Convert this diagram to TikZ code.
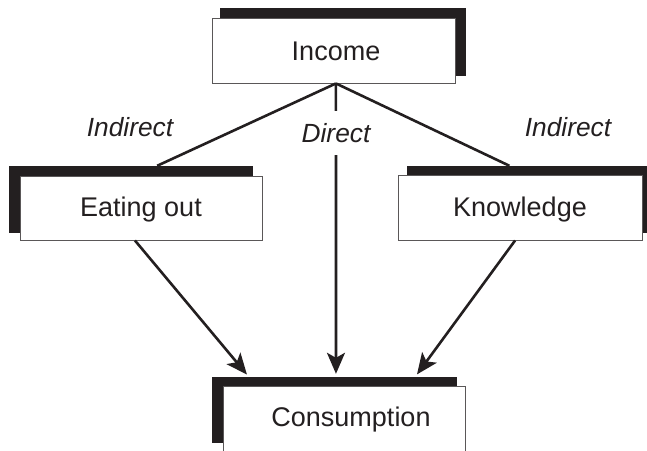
\documentclass[tikz,border=0pt]{standalone}
\usepackage{fontspec}
\setmainfont{Liberation Sans}
\usetikzlibrary{arrows.meta,calc}
\definecolor{ink}{HTML}{231F20}
\begin{document}
\begin{tikzpicture}[x=1pt,y=-1pt,
  shade/.style={fill=ink,draw=none,inner sep=0pt},
  whitebox/.style={fill=white,draw=ink!75,line width=0.9pt,inner sep=0pt},
  lbl/.style={text=ink,inner sep=0pt,font=\fontsize{27}{32}\selectfont},
  tag/.style={text=ink,inner sep=0pt,font=\fontsize{26.3}{30}\selectfont\itshape},
  conn/.style={draw=ink,line width=2.6pt},
  arr/.style={conn,-{Stealth[length=21pt,width=18pt,inset=5pt]},shorten >=3pt}]
\useasboundingbox (0,0) rectangle (647,450);
\clip (0,0) rectangle (647,450);
% Income
\node[shade,minimum width=246pt,minimum height=68pt] (incS) at (343,42) {};
\node[whitebox,minimum width=243pt,minimum height=65pt] (inc) at (333.5,50.5) {};
\node[lbl] (incT) at (336,51) {Income};
% Eating out
\node[shade,minimum width=244pt,minimum height=67pt] (eatS) at (131,199.5) {};
\node[whitebox,minimum width=242pt,minimum height=64pt] (eat) at (141,208) {};
\node[lbl] (eatT) at (141,210) {Eating out};
% Knowledge
\node[shade,minimum width=244pt,minimum height=67pt] (knoS) at (529,199.5) {};
\node[whitebox,minimum width=244pt,minimum height=65pt] (kno) at (520,207.5) {};
\node[lbl] (knoT) at (520,210) {Knowledge};
% Consumption
\node[shade,minimum width=245pt,minimum height=66pt] (conS) at (334.5,410) {};
\node[whitebox,minimum width=242pt,minimum height=66pt] (con) at (344,419) {};
\node[lbl] (conT) at (351,420) {Consumption};
% labels
\node[tag] (l1) at (130,127) {Indirect};
\node[tag] (l3) at (568,127) {Indirect};
% connectors
\coordinate (incOut) at ($(inc.south west)!0.51!(inc.south east)$);
\draw[conn] (incOut) -- ($(eatS.north west)!0.607!(eatS.north east)$);
\draw[conn] (incOut) -- ($(knoS.north west)!0.42!(knoS.north east)$);
\draw[arr] (incOut) -- ($(conS.north west)!0.506!(conS.north east)$);
\draw[arr] ($(eat.south west)!0.475!(eat.south east)$) -- ($(conS.north west)!0.151!(conS.north east)$);
\draw[arr] ($(kno.south west)!0.48!(kno.south east)$) -- ($(conS.north west)!0.829!(conS.north east)$);
\node[tag,fill=white,inner xsep=2pt,minimum height=44pt] (l2) at (336,133) {Direct};
\end{tikzpicture}
\end{document}
